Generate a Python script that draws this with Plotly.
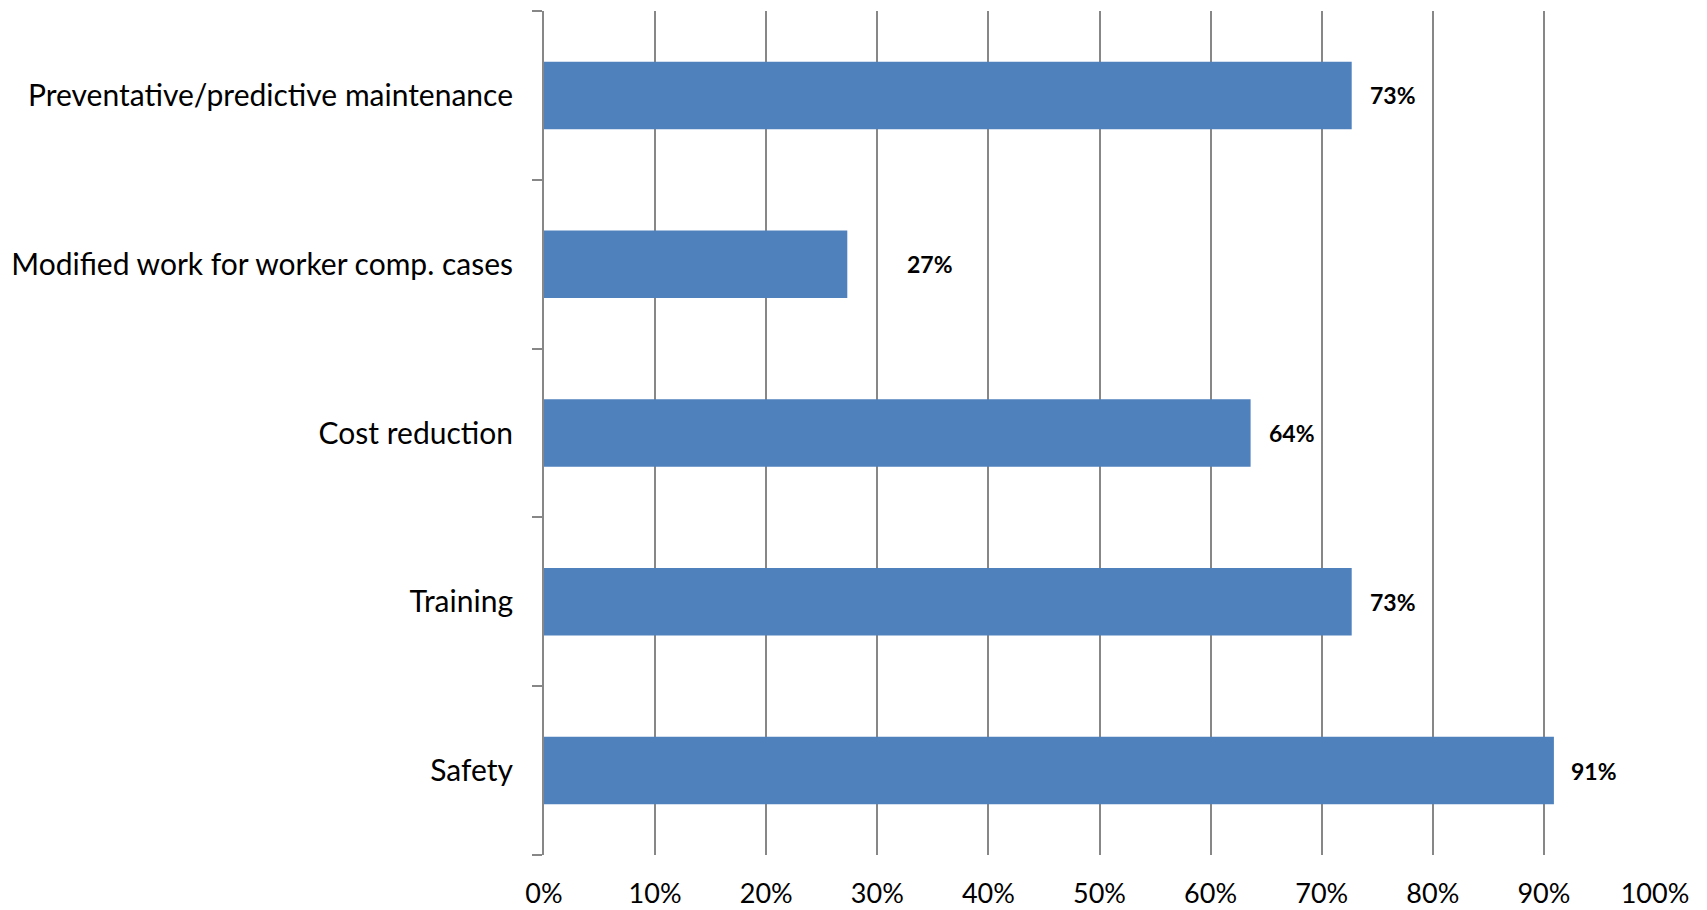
import plotly.graph_objects as go

categories = ["Safety", "Training", "Cost reduction",
              "Modified work for worker comp. cases",
              "Preventative/predictive maintenance"]
values = [0.909, 0.727, 0.636, 0.273, 0.727]
labels = ["91%", "73%", "64%", "27%", "73%"]
label_shift = [15, 16, 16, 58, 16]  # pixel gap between bar end and label

BAR = "#4F81BD"
GRID = "#878787"
FONT = "Lato"

fig = go.Figure()
fig.add_trace(go.Bar(
    y=categories, x=values, orientation="h",
    marker=dict(color=BAR, line=dict(width=0)),
    width=0.4, hoverinfo="skip",
))

for c, v, t, s in zip(categories, values, labels, label_shift):
    fig.add_annotation(x=v, y=c, text="<b>%s</b>" % t, showarrow=False,
                       xanchor="left", xshift=s,
                       font=dict(family=FONT, size=23, color="#000000"))

fig.update_layout(
    width=1707, height=910,
    margin=dict(l=529, r=60, t=3, b=63),
    paper_bgcolor="white", plot_bgcolor="white",
    showlegend=False,
    font=dict(family=FONT, size=26, color="#000000"),
    bargap=0.6,
)
fig.update_xaxes(
    range=[0, 1], dtick=0.1, tickformat=".0%",
    showgrid=True, gridcolor=GRID, gridwidth=2,
    zeroline=False, showline=False, ticks="",
    ticklabelstandoff=20,
    tickfont=dict(family=FONT, size=27),
)
fig.update_yaxes(
    categoryorder="array", categoryarray=categories,
    showline=True, linecolor=GRID, linewidth=2,
    ticks="outside", ticklen=10, tickcolor=GRID, tickwidth=2,
    tickson="boundaries", showgrid=False,
    ticklabelstandoff=23,
    tickfont=dict(family=FONT, size=30),
)

fig.write_html("out.html")
